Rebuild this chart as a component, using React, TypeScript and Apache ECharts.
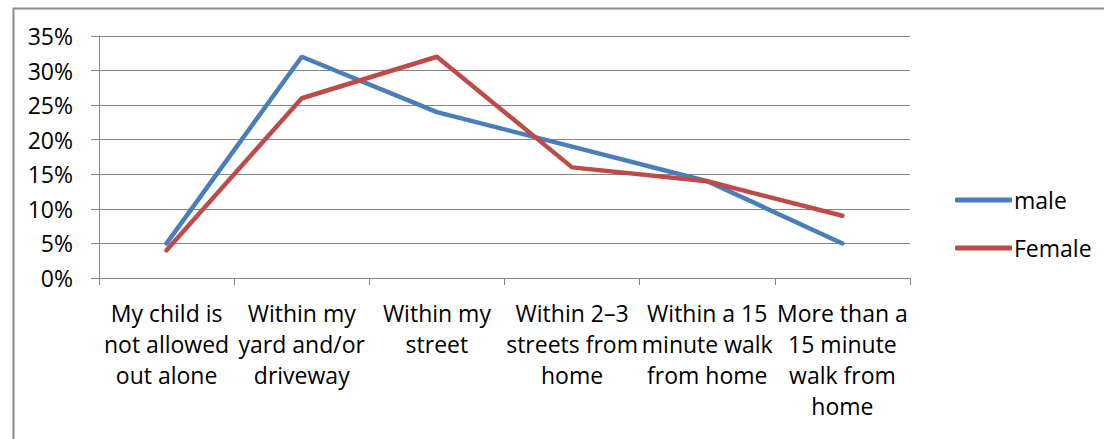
import React, { useEffect, useRef } from "react";
import * as echarts from "echarts";

const categories = [
  "My child is not allowed out alone",
  "Within my yard and/or driveway",
  "Within my street",
  "Within 2–3 streets from home",
  "Within a 15 minute walk from home",
  "More than a 15 minute walk from home",
];
const categoryLabels = [
  "My child is\nnot allowed\nout alone",
  "Within my\nyard and/or\ndriveway",
  "Within my\nstreet",
  "Within 2–3\nstreets from\nhome",
  "Within a 15\nminute walk\nfrom home",
  "More than a\n15 minute\nwalk from\nhome",
];
const maleValues = [0.05, 0.32, 0.24, 0.19, 0.14, 0.05];
const femaleValues = [0.04, 0.26, 0.32, 0.16, 0.14, 0.09];
const seriesNames = ["male", "Female"];

const FONT = '"Open Sans", "Noto Sans", sans-serif';

export default function App() {
  const ref = useRef<HTMLDivElement>(null);
  useEffect(() => {
    if (!ref.current) return;
    const chart = echarts.init(ref.current, null, { renderer: "svg" });
    chart.setOption({
      animation: false,
      backgroundColor: "#ffffff",
      textStyle: { fontFamily: FONT, color: "#000" },
      graphic: [
        {
          type: "rect",
          left: 11,
          top: 6,
          shape: { width: 1200, height: 500 },
          style: { fill: "none", stroke: "#8a8a8a", lineWidth: 2 },
          silent: true,
        },
      ],
      grid: { left: 99, right: 194, top: 36, bottom: 161, containLabel: false },
      legend: {
        orient: "vertical",
        left: 950,
        top: 179,
        itemWidth: 57,
        itemHeight: 5,
        itemGap: 16,
        icon: "roundRect",
        textStyle: { fontFamily: FONT, fontSize: 23, color: "#000", lineHeight: 32, padding: [0, 0, 0, -3] },
        data: seriesNames,
      },
      xAxis: {
        type: "category",
        data: categories,
        boundaryGap: true,
        axisLine: { show: true, lineStyle: { color: "#868686", width: 1 } },
        axisTick: { show: true, length: 7, lineStyle: { color: "#868686" } },
        axisLabel: {
          interval: 0,
          margin: 19,
          fontFamily: FONT,
          fontSize: 23,
          lineHeight: 31,
          color: "#000",
          formatter: (_v: string, i: number) => categoryLabels[i],
        },
        splitLine: { show: false },
      },
      yAxis: {
        type: "value",
        min: 0,
        max: 0.35,
        interval: 0.05,
        axisLine: { show: true, lineStyle: { color: "#868686", width: 1 } },
        axisTick: { show: true, length: 8, lineStyle: { color: "#868686" } },
        axisLabel: {
          margin: 26,
          fontFamily: FONT,
          fontSize: 23,
          color: "#000",
          formatter: (v: number) => Math.round(v * 100) + "%",
        },
        splitLine: { show: true, lineStyle: { color: "#868686", width: 1 } },
      },
      series: [
        {
          name: seriesNames[0],
          type: "line",
          data: maleValues,
          showSymbol: false,
          symbol: "none",
          color: "#4A7EBB",
          lineStyle: { width: 4.5, color: "#4A7EBB", cap: "round" },
        },
        {
          name: seriesNames[1],
          type: "line",
          data: femaleValues,
          showSymbol: false,
          symbol: "none",
          color: "#BE4B48",
          lineStyle: { width: 4.5, color: "#BE4B48", cap: "round" },
        },
      ],
    });
    return () => chart.dispose();
  }, []);
  return (
    <div
      ref={ref}
      style={{ position: "fixed", left: 0, top: 0, width: 1104, height: 439 }}
    />
  );
}
